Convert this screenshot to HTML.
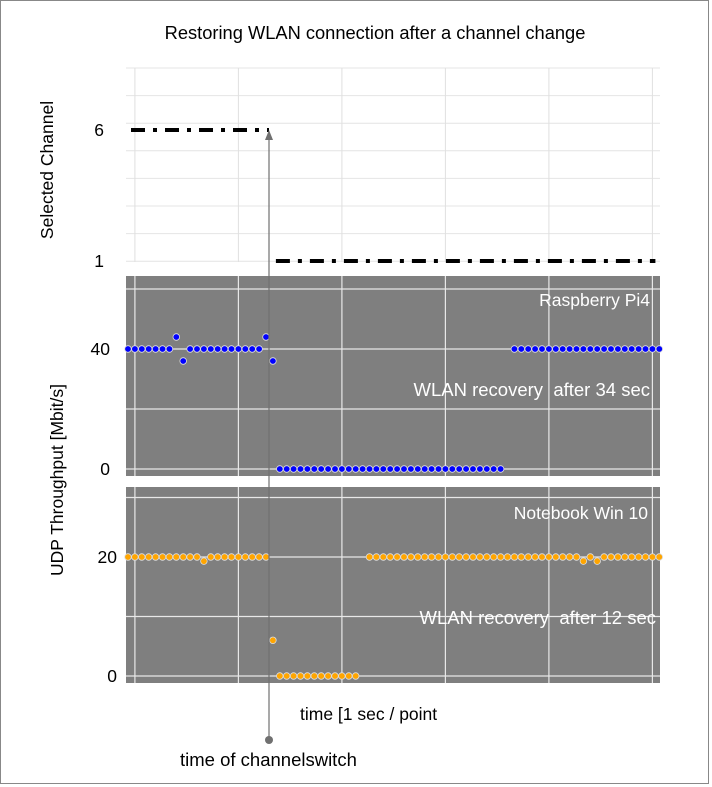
<!DOCTYPE html>
<html><head><meta charset="utf-8"><style>
body{margin:0;background:#fff;}
svg{display:block;font-family:"Liberation Sans",sans-serif;}
text{white-space:pre;}
</style></head><body>
<svg id="chart" width="712" height="787">
<rect x="0.5" y="0.5" width="708" height="783" fill="#fff" stroke="#888"/>
<text x="375" y="39" text-anchor="middle" font-size="18.3">Restoring WLAN connection after a channel change</text>
<g id="topPanel"></g>
<g id="mid"></g>
<g id="bot"></g>
<text transform="translate(53,170) rotate(-90)" text-anchor="middle" font-size="17.5">Selected Channel</text>
<text transform="translate(63,480) rotate(-90)" text-anchor="middle" font-size="17.5">UDP Throughput [Mbit/s]</text>
<text x="300" y="720" font-size="17.5">time [1 sec / point</text>
<text x="180" y="766" font-size="18.5">time of channelswitch</text>
<g id="ann"></g>
</svg>
<script>
const channelSegments=[[0,6,20],[21,1,76]];
const piValues=[40,40,40,40,40,40,40,44,36,40,40,40,40,40,40,40,40,40,40,40,44,36,
0,0,0,0,0,0,0,0,0,0,0,0,0,0,0,0,0,0,0,0,0,0,0,0,0,0,0,0,0,0,0,0,0,null,
40,40,40,40,40,40,40,40,40,40,40,40,40,40,40,40,40,40,40,40,40,40];
const nbValues=[20,20,20,20,20,20,20,20,20,20,20,19.3,20,20,20,20,20,20,20,20,20,6,
0,0,0,0,0,0,0,0,0,0,0,0,null,
20,20,20,20,20,20,20,20,20,20,20,20,20,20,20,20,20,20,20,20,20,20,20,20,20,20,20,20,20,20,20,19.3,20,19.3,20,20,20,20,20,20,20,20,20];
const chTicks=[6,1];
const piTicks=[40,0];
const nbTicks=[20,0];
const NS="http://www.w3.org/2000/svg";
function mk(p,t,a){const e=document.createElementNS(NS,t);for(const k in a)e.setAttribute(k,a[k]);p.appendChild(e);return e;}
const X0=126,X1=660;
const xs=i=>128+6.9*i;
const yCh=v=>261-(v-1)*26.2;
const yPi=v=>469-v*3;
const yNb=v=>676-v*5.95;
const vgrid=[1,16,31,46,61,76];
const topG=document.getElementById('topPanel');
for(let k=0;k<8;k++){const gy=68+k*27.6;const l=mk(topG,'line',{x1:X0,x2:X1,y1:gy,y2:gy,stroke:'#e4e4e4'});

}
vgrid.forEach(i=>{const l=mk(topG,'line',{x1:xs(i),x2:xs(i),y1:68,y2:262,stroke:'#e0e0e0'});

});
chTicks.forEach(t=>{const e=mk(topG,'text',{x:104,y:yCh(t)+6,'text-anchor':'end','font-size':17.5});e.textContent=t;

});
channelSegments.forEach(s=>{const l=mk(topG,'line',{x1:xs(s[0])+3,x2:xs(s[2])+3,y1:yCh(s[1]),y2:yCh(s[1]),stroke:'#000','stroke-width':4,'stroke-dasharray':'14,8,4,8'});

});
function panel(id,y0,y1,yf,vals,ticks,color,hg,lx,labels){
const g=document.getElementById(id);
mk(g,'rect',{x:X0,y:y0,width:X1-X0,height:y1-y0,fill:'#7f7f7f'});
hg.forEach(v=>{const l=mk(g,'line',{x1:X0,x2:X1,y1:yf(v),y2:yf(v),stroke:'#e8e8e8','stroke-width':1.2});

});
vgrid.forEach(i=>{const l=mk(g,'line',{x1:xs(i),x2:xs(i),y1:y0,y2:y1,stroke:'#e8e8e8','stroke-width':1.2});

});
ticks.forEach(t=>{const e=mk(g,'text',{x:lx,y:yf(t)+6,'text-anchor':'end','font-size':17.5});e.textContent=t;

});
labels.forEach(L=>{const e=mk(g,'text',{x:L[0],y:L[1],'text-anchor':'end','font-size':L[3],fill:'#fff'});e.textContent=L[2];

});
vals.forEach((v,i)=>{if(v===null)return;const c=mk(g,'circle',{cx:xs(i),cy:yf(v),r:3.3,fill:color,stroke:'#ddd','stroke-width':0.8});

});
}
panel('mid',276,476,yPi,piValues,piTicks,'#0000ff',[60,40,20,0],110,[[650,306,'Raspberry Pi4',17.5],[650,396,'WLAN recovery  after 34 sec',18.5]]);
panel('bot',487,683,yNb,nbValues,nbTicks,'#ffa500',[30,20,10,0],117,[[648,519,'Notebook Win 10',17.5],[656,624,'WLAN recovery  after 12 sec',18.5]]);
const ann=document.getElementById('ann');
const al=mk(ann,'line',{x1:269,x2:269,y1:138,y2:740,stroke:'#707070','stroke-width':1.2});


const ah=mk(ann,'polygon',{points:'269,130 265,140 273,140',fill:'#707070'});


const ac=mk(ann,'circle',{cx:269,cy:740,r:4,fill:'#707070'});


</script>
</body></html>
